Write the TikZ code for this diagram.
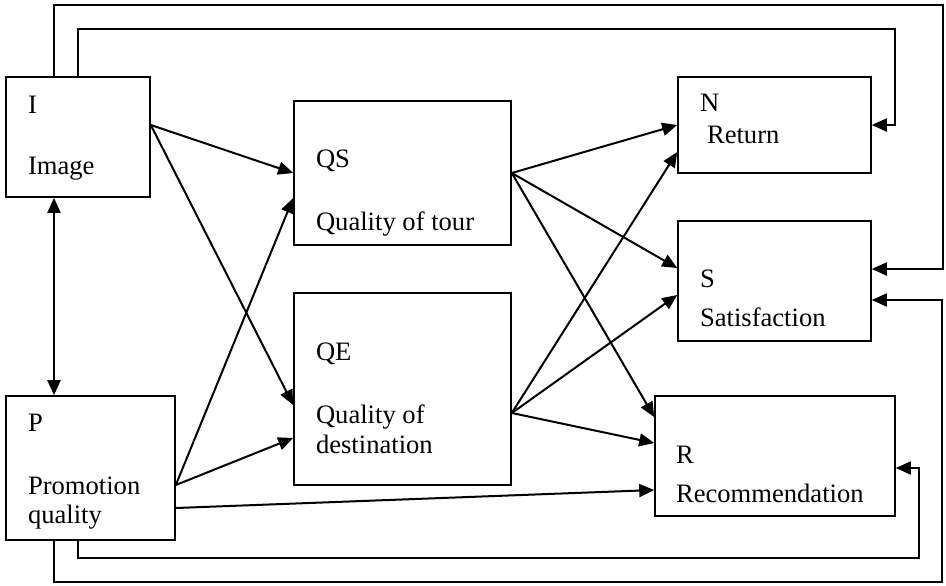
\documentclass[tikz,border=0pt]{standalone}
\usepackage{fontspec}
\setmainfont{Liberation Serif}
\usetikzlibrary{arrows.meta}
\tikzset{every picture/.style={line width=1pt}}
\tikzset{
  varbox/.style={rectangle, draw, line width=0.8pt, inner sep=0pt},
  varlbl/.style={anchor=base west, inner sep=0pt, font=\fontsize{13.3}{16}\selectfont},
  link/.style={->, line width=1pt}
}

\begin{document}
\begin{tikzpicture}[x=0.5pt, y=-0.5pt, >={Triangle[length=7.5pt, width=6.5pt]}]
      \useasboundingbox (0,0) rectangle (946,585);
      \node[varbox, minimum width=72pt,    minimum height=60pt] (I)  at (78,137)    {};
      \node[varbox, minimum width=84.5pt,  minimum height=72pt] (P)  at (90.5,468)  {};
      \node[varbox, minimum width=108.5pt, minimum height=72pt] (QS) at (402.5,173) {};
      \node[varbox, minimum width=108.5pt, minimum height=96pt] (QE) at (402.5,389) {};
      \node[varbox, minimum width=96.5pt,  minimum height=48pt] (N)  at (774.5,125) {};
      \node[varbox, minimum width=96.5pt,  minimum height=60pt] (S)  at (774.5,281) {};
      \node[varbox, minimum width=120pt,   minimum height=60pt] (R)  at (775,456)   {};
      \node[varlbl] (Ia)  at (27,113)  {I};
      \node[varlbl] (Ib)  at (27,174)  {Image};
      \node[varlbl] (Pa)  at (27,431)  {P};
      \node[varlbl] (Pb)  at (27,494)  {Promotion};
      \node[varlbl] (Pc)  at (27,523)  {quality};
      \node[varlbl] (QSa) at (315,167) {QS};
      \node[varlbl] (QSb) at (315,230) {Quality of tour};
      \node[varlbl] (QEa) at (315,360) {QE};
      \node[varlbl] (QEb) at (315,423) {Quality of};
      \node[varlbl] (QEc) at (315,453) {destination};
      \node[varlbl] (Na)  at (699,111) {N};
      \node[varlbl] (Nb)  at (706,143) {Return};
      \node[varlbl] (Sa)  at (699,287) {S};
      \node[varlbl] (Sb)  at (699,326) {Satisfaction};
      \node[varlbl] (Ra)  at (675,463) {R};
      \node[varlbl] (Rb)  at (675,502) {Recommendation};
      \draw[<->] ([xshift=-12pt]I.south) -- ([xshift=-18.25pt]P.north);
      \draw[link] ([yshift=6pt]I.east) -- (QS.west);
      \draw[link] ([yshift=6pt]I.east) -- ([yshift=-8pt]QE.west);
      \draw[link] ([yshift=-8.5pt]P.east) -- ([yshift=-12.5pt]QS.west);
      \draw[link] ([yshift=-8.5pt]P.east) -- ([yshift=-24.5pt]QE.west);
      \draw[link] ([yshift=-20pt]P.east) -- ([yshift=-17pt]R.west);
      \draw[link] (QS.east) -- (N.west);
      \draw[link] (QS.east) -- ([yshift=6.5pt]S.west);
      \draw[link] (QS.east) -- ([yshift=19.5pt]R.west);
      \draw[link] ([yshift=-12pt]QE.east) -- ([yshift=-13.5pt]N.west);
      \draw[link] ([yshift=-12pt]QE.east) -- ([yshift=-7pt]S.west);
      \draw[link] ([yshift=-12pt]QE.east) -- ([yshift=6.5pt]R.west);
      \draw[link] (I.north) |- (895,29) |- (N.east);
      \draw[link] ([xshift=-12pt]I.north) |- (943,5) |- ([yshift=6pt]S.east);
      \draw[link] ([xshift=-6.25pt]P.south) |- (919,558) |- ([yshift=-6pt]R.east);
      \draw[link] ([xshift=-18.25pt]P.south) |- (942,582) |- ([yshift=-9.5pt]S.east);
    \end{tikzpicture}
\end{document}
